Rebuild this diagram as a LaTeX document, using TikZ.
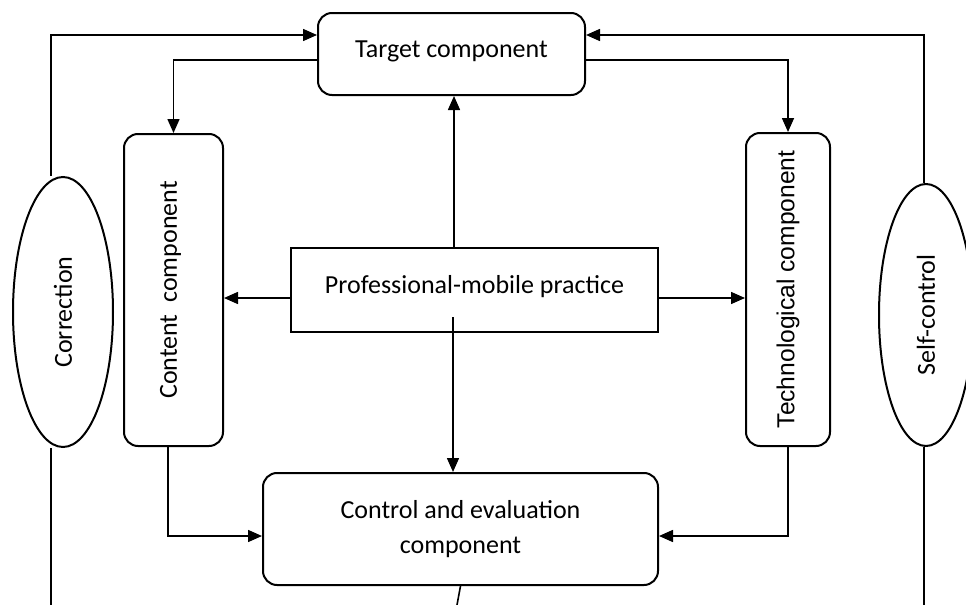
\documentclass[tikz,border=0pt]{standalone}
\usepackage{fontspec}
\setmainfont{Carlito}
\newfontfamily\techfont{Liberation Sans}
\usetikzlibrary{shapes.geometric,arrows.meta}
\tikzstyle{rc}=[shape=rectangle,
                rounded corners=7pt,
                draw=black,
                line width=1pt,
                inner sep=0pt]
\tikzstyle{pb}=[shape=rectangle,
                draw=black,
                line width=1pt,
                inner sep=0pt]
\tikzstyle{el}=[shape=ellipse,
                draw=black,
                line width=1pt,
                inner sep=0pt,
                rotate=90]

\begin{document}
\begin{tikzpicture}[x=0.5pt,y=-0.5pt,>={Triangle[length=7pt,width=6pt]},line width=0.8pt,
                    font=\fontsize{13}{17.5}\selectfont]
\useasboundingbox (0,0) rectangle (966,605);

% component nodes
\node[rc,minimum width=133.5pt,minimum height=41pt] (target) at (451.5,54) {\raisebox{4.5pt}{Target component}};
\node[rc,rotate=90,minimum width=156pt,minimum height=49.5pt] (content) at (173.5,290) {\raisebox{5pt}{Content\ \ component}};
\node[rc,rotate=90,minimum width=156.5pt,minimum height=42pt,font=\techfont\fontsize{12.3}{15}\selectfont] (tech) at (788,289.5) {Technological component};
\node[pb,minimum width=183.5pt,minimum height=42pt] (practice) at (474.5,290) {\raisebox{5.5pt}{Professional-mobile practice}};
\node[rc,minimum width=197.5pt,minimum height=56pt,align=center] (control) at (460.5,529) {Control and evaluation\\component};

% feedback nodes
\node[el,minimum width=135pt,minimum height=50pt] (corr) at (63,312) {Correction};
\node[el,minimum width=131pt,minimum height=47pt] (self) at (926,315) {\raisebox{-2.5pt}{Self-control}\hspace{18pt}};

% helper coordinates
\coordinate (cl) at (51,35);
\coordinate (cr) at (924,35);
\coordinate (bl) at (51,605);
\coordinate (br) at (924,605);
\coordinate (mid) at (454,0);
\coordinate (pd) at (453,317);
\coordinate (stub) at (457,605);

% feedback loops
\draw[->] (corr.east -| cl) -- (cl) -- (target.west |- cl);
\draw[->] (self.east -| cr) -- (cr) -- (target.east |- cr);
\draw (corr.west -| bl) -- (bl);
\draw (self.west -| br) -- (br);

% target to content and technological
\draw[->] ([yshift=-3pt]target.west) -| (content.east);
\draw[->] ([yshift=-3pt]target.east) -| (tech.east);

% practice to the other components
\draw[->] (practice.north -| mid) -- (target.south -| mid);
\draw[->] ([yshift=-4pt]practice.west) -- ([yshift=-4pt]practice.west -| content.south);
\draw[->] ([yshift=-4pt]practice.east) -- ([yshift=-4pt]practice.east -| tech.north);
\draw[->] (pd) -- (control.north -| pd);

% content and technological to control
\draw[->] ([xshift=-2.75pt]content.west) |- ([yshift=-3.5pt]control.west);
\draw[->] (tech.west) |- ([yshift=-3.5pt]control.east);
\draw (control.south) -- (stub);

\end{tikzpicture}
\end{document}
